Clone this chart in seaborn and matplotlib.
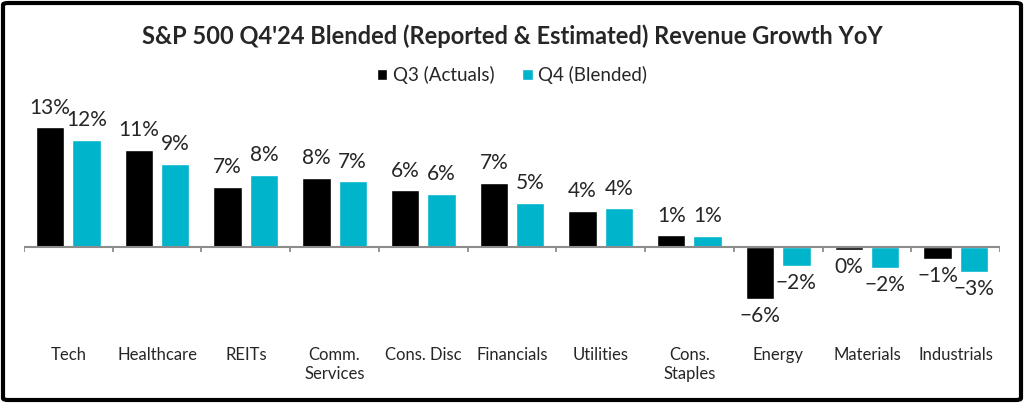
import numpy as np
import pandas as pd
import seaborn as sns
import matplotlib.pyplot as plt
from matplotlib.patches import FancyBboxPatch

# values
sectors = ['Tech', 'Healthcare', 'REITs', 'Comm.\nServices', 'Cons. Disc', 'Financials',
           'Utilities', 'Cons.\nStaples', 'Energy', 'Materials', 'Industrials']
q3_actuals = [13.3, 10.8, 6.7, 7.7, 6.3, 7.1, 4.0, 1.3, -5.8, -0.3, -1.3]
q4_blended = [11.9, 9.2, 8.0, 7.3, 5.9, 4.9, 4.3, 1.2, -2.1, -2.3, -2.8]
series = ['Q3 (Actuals)', 'Q4 (Blended)']
colors = ['#000000', '#00B4CC']

df = pd.DataFrame({
    'Sector': sectors * 2,
    'Series': [series[0]] * len(sectors) + [series[1]] * len(sectors),
    'Growth': q3_actuals + q4_blended,
})

sns.set_style('white')
plt.rcParams['font.family'] = ['Lato', 'DejaVu Sans']

fig = plt.figure(figsize=(10.24, 4.03), dpi=100)
ax = fig.add_axes([24 / 1024, 1 - 340 / 403, 976 / 1024, 240 / 403])

sns.barplot(data=df, x='Sector', y='Growth', hue='Series', palette=colors,
            width=0.82, gap=0.22, saturation=1, ax=ax, legend=True)

ax.set_ylim(-93 / 9, 147 / 9)
ax.set_xlim(-0.5, len(sectors) - 0.5)
for s in ax.spines.values():
    s.set_visible(False)
ax.set_yticks([])
ax.set_xlabel('')
ax.set_ylabel('')
ax.tick_params(axis='x', length=0, pad=5, labelsize=12)

# zero line with category separators
ax.axhline(0, color='#8c8c8c', lw=1.5, zorder=3)
ax.vlines(np.arange(-0.5, len(sectors)), -0.6, 0, color='#8c8c8c', lw=1.3, zorder=3)


def fmt(v):
    r = int(round(v))
    return f'{r}%'.replace('-', '\u2212')


for cont, vals in zip(ax.containers, [q3_actuals, q4_blended]):
    pos = [fmt(v) if v >= 0 else '' for v in vals]
    neg = [fmt(v) if v < 0 else '' for v in vals]
    ax.bar_label(cont, labels=pos, padding=7, fontsize=15)
    ax.bar_label(cont, labels=neg, padding=5, fontsize=15)

ax.legend(loc='center', bbox_to_anchor=(0.5, 1 - 75 / 403), bbox_transform=fig.transFigure,
          ncol=2, frameon=False, fontsize=13.5, handlelength=0.55, handleheight=0.55,
          handletextpad=0.3, columnspacing=1.5)

fig.text(0.5, 1 - 36 / 403, "S&P 500 Q4'24 Blended (Reported & Estimated) Revenue Growth YoY",
         ha='center', va='center', fontsize=17, fontweight='bold')

border = FancyBboxPatch((3 / 1024, 3 / 403), 1018 / 1024, 397 / 403,
                        boxstyle='round,pad=0,rounding_size=0.005',
                        transform=fig.transFigure, fill=False, lw=3, ec='black')
fig.patches.append(border)

fig.savefig('out.png', dpi=100)
